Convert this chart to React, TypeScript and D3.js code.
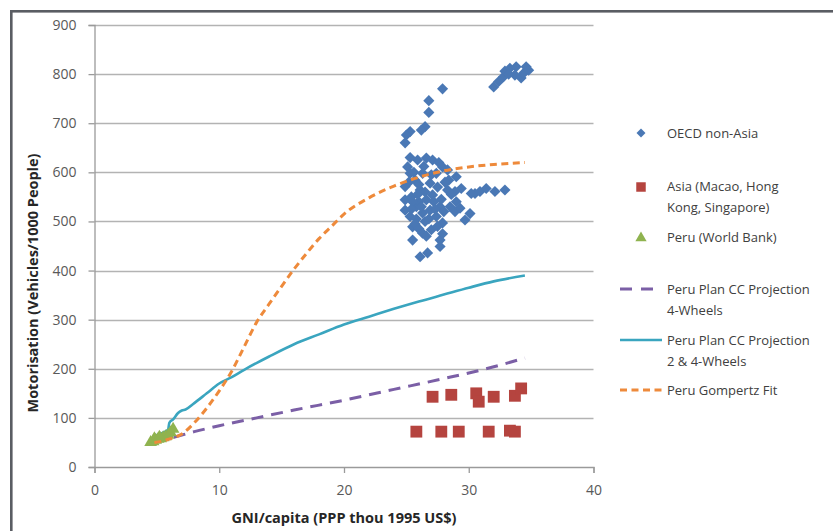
import { useEffect, useRef } from "react";
import * as d3 from "d3";

// OECD non-Asia (GNI thou US$, vehicles / 1000 people)
const oecdGni = [
  32.0, 32.4, 32.8, 32.9, 33.3, 33.8, 33.7, 34.2, 34.6, 34.4, 34.8, 33.2,
  27.9, 26.8, 26.8, 26.5, 26.2, 25.3, 25.0, 24.9,
  25.1, 25.9, 26.6, 27.1, 27.9, 25.3, 24.9, 24.9, 24.9, 25.3, 25.5, 25.5, 26.1, 26.7,
  26.3, 27.0, 27.7, 27.7, 27.9, 27.4, 27.7, 28.5, 28.9, 29.4, 28.3, 29.0, 26.1, 26.6,
  25.8, 26.9, 27.4, 26.3, 25.7, 27.1, 26.3, 26.9, 25.4, 28.3, 28.4, 28.9,
  30.1, 30.2, 29.7, 30.5, 30.9, 31.4, 32.1, 32.9, 29.3, 25.6, 26.0, 25.2, 27.5, 26.5,
  25.8, 27.2,
  25.5, 26.0, 26.5, 27.0, 27.8, 28.0, 26.2, 25.9, 26.8, 27.3, 25.4, 26.4, 27.6, 28.1,
  29.0, 28.6, 25.7, 26.6, 27.5, 25.3, 26.0, 27.9,
];
const oecdMotor = [
  774, 785, 795, 806, 812, 815, 798, 792, 815, 802, 808, 800,
  770, 746, 722, 693, 686, 683, 676, 660,
  611, 625, 629, 625, 611, 598, 571, 544, 523, 510, 489, 462, 428, 436,
  476, 483, 462, 449, 497, 510, 530, 530, 520, 567, 564, 591, 564, 544,
  530, 578, 598, 598, 584, 554, 517, 523, 550, 605, 584, 561,
  516, 557, 503, 557, 561, 567, 561, 564, 527, 600, 540, 580, 570, 500,
  505, 540,
  540, 575, 560, 595, 545, 520, 530, 555, 505, 525, 525, 612, 620, 580,
  540, 555, 495, 470, 490, 630, 485, 475,
];

// Asia (Macao, Hong Kong, Singapore)
const asiaGni = [25.8, 27.8, 29.2, 31.6, 33.3, 33.7, 27.1, 28.6, 30.6, 30.8, 32.0, 33.7, 34.2];
const asiaMotor = [72, 72, 72, 72, 74, 72, 143, 147, 150, 133, 143, 145, 160];

// Peru (World Bank)
const peruGni = [4.5, 4.7, 4.9, 5.1, 5.3, 5.5, 5.7, 5.9, 6.1, 6.3, 4.8, 5.2];
const peruMotor = [50, 52, 55, 57, 58, 60, 62, 65, 70, 77, 58, 61];

// Peru Plan CC Projection 4-Wheels
const plan4Gni = [4.8, 6, 8, 10, 13, 16, 20, 24, 28, 32, 34.5];
const plan4Motor = [50, 58, 72, 84, 100, 116, 136, 158, 180, 204, 222];

// Peru Plan CC Projection 2 & 4-Wheels
const plan24Gni = [4.6, 5.0, 5.5, 5.9, 6.0, 6.3, 6.7, 7.0, 7.3, 8, 9, 10, 11, 12, 14, 16, 18, 20, 22, 24, 26, 28, 30, 32, 34.5];
const plan24Motor = [58, 65, 70, 76, 90, 97, 110, 115, 117, 130, 150, 170, 183, 198, 225, 250, 270, 290, 306, 322, 337, 351, 365, 378, 390];

// Peru Gompertz Fit
const gompGni = [4.8, 5.5, 6, 7, 8, 9, 10, 11, 12, 13, 14, 15, 16, 17, 18, 19, 20, 22, 24, 26, 28, 30, 32, 34.5];
const gompMotor = [50, 53, 57, 67, 90, 120, 155, 195, 245, 295, 332, 368, 403, 435, 465, 490, 515, 548, 572, 590, 603, 611, 616, 620];

const xTicks = [0, 10, 20, 30, 40];
const yTicks = [0, 100, 200, 300, 400, 500, 600, 700, 800, 900];

const FONT = "'Open Sans', 'DejaVu Sans', sans-serif";

export default function App() {
  const svgRef = useRef<SVGSVGElement>(null);

  useEffect(() => {
    if (!svgRef.current) return;
    const svg = d3.select(svgRef.current);
    svg.selectAll("*").remove();

    const left = 94.5;
    const right = 593.5;
    const top = 25;
    const bottom = 467;

    const x = d3.scaleLinear().domain([0, 40]).range([left, right]);
    const y = d3.scaleLinear().domain([0, 900]).range([bottom, top]);

    // outer chart border (only left and top visible)
    svg
      .append("rect")
      .attr("x", 11.3)
      .attr("y", 11.3)
      .attr("width", 1000)
      .attr("height", 700)
      .attr("fill", "none")
      .attr("stroke", "#5a5d63")
      .attr("stroke-width", 2.6);

    // gridlines
    svg
      .append("g")
      .selectAll("line")
      .data(yTicks.filter((t) => t > 0))
      .enter()
      .append("line")
      .attr("x1", left)
      .attr("x2", right)
      .attr("y1", (d) => Math.round(y(d)) + 0.5)
      .attr("y2", (d) => Math.round(y(d)) + 0.5)
      .attr("stroke", "#b3b3b3")
      .attr("stroke-width", 1.3);

    // y axis
    const yAxis = svg
      .append("g")
      .attr("transform", `translate(${left},0)`)
      .call(d3.axisLeft(y).tickValues(yTicks).tickSize(6).tickPadding(12));
    yAxis.select(".domain").attr("stroke", "#9a9a9a").attr("stroke-width", 1.3);
    yAxis.selectAll(".tick line").attr("stroke", "#9a9a9a").attr("stroke-width", 1.3);
    yAxis
      .selectAll("text")
      .style("font-family", FONT)
      .style("font-size", "14px")
      .style("fill", "#595959");

    // x axis
    const xAxis = svg
      .append("g")
      .attr("transform", `translate(0,${bottom})`)
      .call(d3.axisBottom(x).tickValues(xTicks).tickSize(6).tickPadding(12));
    xAxis.select(".domain").attr("stroke", "#9a9a9a").attr("stroke-width", 1.3);
    xAxis.selectAll(".tick line").attr("stroke", "#9a9a9a").attr("stroke-width", 1.3);
    xAxis
      .selectAll("text")
      .style("font-family", FONT)
      .style("font-size", "14px")
      .style("fill", "#595959");

    // axis titles
    svg
      .append("text")
      .attr("transform", `translate(38,283) rotate(-90)`)
      .attr("text-anchor", "middle")
      .style("font-family", FONT)
      .style("font-size", "14.5px")
      .style("font-weight", "bold")
      .style("fill", "#262626")
      .text("Motorisation (Vehicles/1000 People)");

    svg
      .append("text")
      .attr("x", 344)
      .attr("y", 523)
      .attr("text-anchor", "middle")
      .style("font-family", FONT)
      .style("font-size", "14.5px")
      .style("font-weight", "bold")
      .style("fill", "#262626")
      .text("GNI/capita (PPP thou 1995 US$)");

    const diamond = d3.symbol().type(d3.symbolSquare).size(62);
    const square = d3.symbol().type(d3.symbolSquare).size(140);
    const triangle = d3.symbol().type(d3.symbolTriangle).size(70);

    // OECD points
    svg
      .append("g")
      .selectAll("path")
      .data(oecdGni.map((g, i) => [g, oecdMotor[i]]))
      .enter()
      .append("path")
      .attr("d", diamond()!)
      .attr("transform", (d) => `translate(${x(d[0])},${y(d[1])}) rotate(45)`)
      .attr("fill", "#4a78b5");

    // Asia points
    svg
      .append("g")
      .selectAll("path")
      .data(asiaGni.map((g, i) => [g, asiaMotor[i]]))
      .enter()
      .append("path")
      .attr("d", square()!)
      .attr("transform", (d) => `translate(${x(d[0])},${y(d[1])})`)
      .attr("fill", "#b5443f");

    // lines
    const line = d3
      .line<[number, number]>()
      .x((d) => x(d[0]))
      .y((d) => y(d[1]))
      .curve(d3.curveMonotoneX);

    svg
      .append("path")
      .datum(plan4Gni.map((g, i) => [g, plan4Motor[i]] as [number, number]))
      .attr("d", line)
      .attr("fill", "none")
      .attr("stroke", "#7b5fa6")
      .attr("stroke-width", 3)
      .attr("stroke-dasharray", "12 8");

    svg
      .append("path")
      .datum(plan24Gni.map((g, i) => [g, plan24Motor[i]] as [number, number]))
      .attr("d", line)
      .attr("fill", "none")
      .attr("stroke", "#3aa5bf")
      .attr("stroke-width", 2.6);

    // Peru points
    svg
      .append("g")
      .selectAll("path")
      .data(peruGni.map((g, i) => [g, peruMotor[i]]))
      .enter()
      .append("path")
      .attr("d", triangle()!)
      .attr("transform", (d) => `translate(${x(d[0])},${y(d[1])})`)
      .attr("fill", "#8fb34f");

    svg
      .append("path")
      .datum(gompGni.map((g, i) => [g, gompMotor[i]] as [number, number]))
      .attr("d", line)
      .attr("fill", "none")
      .attr("stroke", "#ee8a3b")
      .attr("stroke-width", 3)
      .attr("stroke-dasharray", "7 4.5");

    // legend
    const legend = svg.append("g");
    const lx = 641;
    const tx = 667;
    const addText = (lines: string[], yy: number) => {
      lines.forEach((t, i) => {
        legend
          .append("text")
          .attr("x", tx)
          .attr("y", yy + i * 21)
          .attr("dy", "0.35em")
          .style("font-family", FONT)
          .style("font-size", "13px")
          .style("fill", "#404040")
          .text(t);
      });
    };

    legend
      .append("path")
      .attr("d", d3.symbol().type(d3.symbolSquare).size(40)()!)
      .attr("transform", `translate(${lx},133) rotate(45)`)
      .attr("fill", "#4a78b5");
    addText(["OECD non-Asia"], 133);

    legend
      .append("path")
      .attr("d", d3.symbol().type(d3.symbolSquare).size(90)()!)
      .attr("transform", `translate(${lx},187)`)
      .attr("fill", "#b5443f");
    addText(["Asia (Macao, Hong", "Kong, Singapore)"], 186);

    legend
      .append("path")
      .attr("d", d3.symbol().type(d3.symbolTriangle).size(55)()!)
      .attr("transform", `translate(${lx},238)`)
      .attr("fill", "#8fb34f");
    addText(["Peru (World Bank)"], 237);

    legend
      .append("line")
      .attr("x1", 620)
      .attr("x2", 662)
      .attr("y1", 289)
      .attr("y2", 289)
      .attr("stroke", "#7b5fa6")
      .attr("stroke-width", 3)
      .attr("stroke-dasharray", "12 9");
    addText(["Peru Plan CC Projection", "4-Wheels"], 289);

    legend
      .append("line")
      .attr("x1", 620)
      .attr("x2", 662)
      .attr("y1", 340)
      .attr("y2", 340)
      .attr("stroke", "#3aa5bf")
      .attr("stroke-width", 2.6);
    addText(["Peru Plan CC Projection", "2 & 4-Wheels"], 340);

    legend
      .append("line")
      .attr("x1", 620)
      .attr("x2", 662)
      .attr("y1", 390)
      .attr("y2", 390)
      .attr("stroke", "#ee8a3b")
      .attr("stroke-width", 3)
      .attr("stroke-dasharray", "7 4.5");
    addText(["Peru Gompertz Fit"], 390);
  }, []);

  return (
    <div style={{ position: "fixed", left: 0, top: 0, width: 833, height: 531, background: "#fff" }}>
      <svg ref={svgRef} width="833" height="531" style={{ display: "block" }} />
    </div>
  );
}
